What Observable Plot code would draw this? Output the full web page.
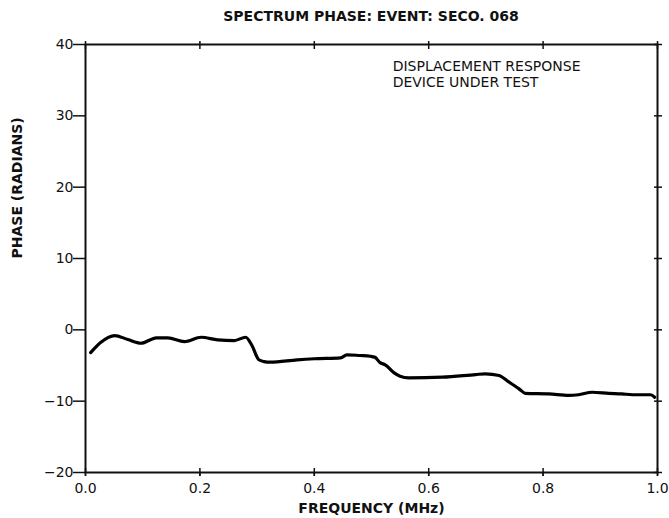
<!DOCTYPE html>
<html>
<head>
<meta charset="utf-8">
<script src="https://cdn.jsdelivr.net/npm/d3@7"></script>
<script src="https://cdn.jsdelivr.net/npm/@observablehq/plot@0.6"></script>
<style>
  html, body { margin: 0; padding: 0; background: #fff; }
  #title { height: 30px; width: 669px; box-sizing: border-box; padding-left: 85px; padding-right: 12px;
    font: bold 14px "DejaVu Sans", sans-serif; color: #111; text-align: center; line-height: 32px; }
  svg { display: block; }
</style>
</head>
<body>
<div id="title">SPECTRUM PHASE: EVENT: SECO. 068</div>
<div id="chart"></div>
<script>
const titleText = "SPECTRUM PHASE: EVENT: SECO. 068";
const xLabel = "FREQUENCY (MHz)";
const yLabel = "PHASE (RADIANS)";
const noteLines = ["DISPLACEMENT RESPONSE", "DEVICE UNDER TEST"];
const noteX = 0.537;
const noteY = 38;
const xTicks = [0, 0.2, 0.4, 0.6, 0.8, 1.0];
const yTicks = [-20, -10, 0, 10, 20, 30, 40];

const freq = [0.009, 0.027, 0.051, 0.074, 0.097, 0.124, 0.144, 0.173, 0.202, 0.231, 0.26, 0.28, 0.291, 0.303, 0.312, 0.323, 0.37, 0.4, 0.446, 0.457, 0.48, 0.498, 0.506, 0.515, 0.524, 0.539, 0.55, 0.565, 0.624, 0.682, 0.699, 0.723, 0.74, 0.758, 0.769, 0.81, 0.845, 0.862, 0.886, 0.915, 0.938, 0.956, 0.988, 0.995];
const phase = [-3.2, -1.74, -0.8, -1.36, -1.88, -1.12, -1.12, -1.64, -1.04, -1.4, -1.5, -1.04, -2.2, -4.2, -4.45, -4.54, -4.2, -4.05, -3.93, -3.5, -3.6, -3.7, -3.85, -4.6, -4.9, -6.0, -6.5, -6.73, -6.64, -6.27, -6.17, -6.4, -7.3, -8.27, -8.9, -8.98, -9.2, -9.1, -8.75, -8.9, -8.98, -9.1, -9.1, -9.45];

const data = freq.map((f, i) => ({f, p: phase[i]}));
const font = "DejaVu Sans, sans-serif";

const chart = Plot.plot({
  width: 669,
  height: 488,
  marginTop: 14,
  marginBottom: 46,
  marginLeft: 85,
  marginRight: 12,
  style: {fontFamily: font, fontSize: "14px", color: "#111", background: "#fff"},
  x: {domain: [0, 1]},
  y: {domain: [-20, 40]},
  marks: [
    Plot.frame({stroke: "#111", strokeWidth: 2}),
    Plot.axisX(xTicks, {anchor: "bottom", tickSize: 4, tickPadding: 7, tickFormat: d3.format(".1f"), label: null, stroke: "#111", strokeWidth: 1.5}),
    Plot.axisX(xTicks, {anchor: "bottom", tickSize: 8, dy: -4, tickFormat: () => "", label: null, stroke: "#111", strokeWidth: 1.5}),
    Plot.axisX(xTicks, {anchor: "top", tickSize: 8, dy: 4, tickFormat: () => "", label: null, stroke: "#111", strokeWidth: 1.5}),
    Plot.axisY(yTicks, {anchor: "left", tickSize: 4, tickPadding: 8, label: null, stroke: "#111", strokeWidth: 1.5}),
    Plot.axisY(yTicks, {anchor: "left", tickSize: 8, dx: -4, tickFormat: () => "", label: null, stroke: "#111", strokeWidth: 1.5}),
    Plot.axisY(yTicks, {anchor: "right", tickSize: 8, dx: -4, tickFormat: () => "", label: null, stroke: "#111", strokeWidth: 1.5}),
    Plot.line(data, {x: "f", y: "p", stroke: "#000", strokeWidth: 3.2, curve: "monotone-x"}),
    Plot.text([noteLines.join("\n")], {x: noteX, y: noteY, text: d => d, textAnchor: "start", lineAnchor: "top", lineHeight: 1.2, fontSize: 14, fill: "#111"}),
    Plot.text([xLabel], {frameAnchor: "bottom", dy: 36, text: d => d, fontWeight: "bold", fontSize: 14, fill: "#111", lineAnchor: "middle"}),
    Plot.text([yLabel], {frameAnchor: "left", dx: -68, rotate: -90, text: d => d, fontWeight: "bold", fontSize: 14, fill: "#111", lineAnchor: "middle"})
  ]
});
document.getElementById("chart").appendChild(chart);
</script>
</body>
</html>
